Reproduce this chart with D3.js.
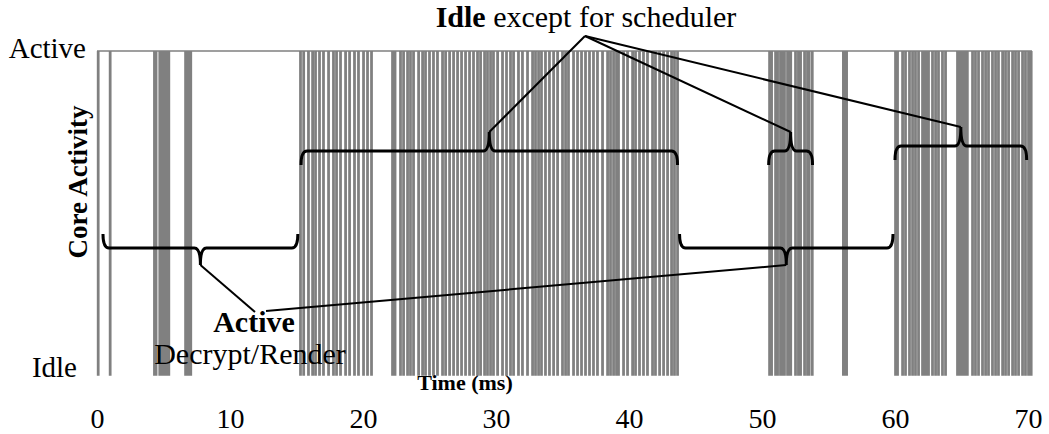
<!DOCTYPE html>
<html>
<head>
<meta charset="utf-8">
<script src="https://cdn.jsdelivr.net/npm/d3@7"></script>
<style>
  body { margin: 0; background: #fff; }
  text { font-family: "Liberation Serif", "Times New Roman", serif; fill: #000; }
</style>
</head>
<body>
<svg id="chart"></svg>
<script>
// x ticks (ms) and the two core states
const xTicks = [0, 10, 20, 30, 40, 50, 60, 70];
const stateLabels = ['Idle', 'Active'];

// times (ms) where the core drops to idle
const idleStarts = [
  0.05, 0.95,
  4.28, 4.4, 4.68, 4.8, 4.97, 5.1, 5.23, 5.36,
  6.62, 6.75, 6.88, 7.01,
  15.26, 15.5, 15.86, 16.17, 16.39, 16.69, 16.99, 17.37, 17.74, 17.97,
  18.27, 18.65, 18.95, 19.32, 19.62, 20.0, 20.3, 20.6,
  22.18, 22.37, 22.78, 23.01, 23.31, 23.53, 23.76, 24.14, 24.44, 24.66,
  24.96, 25.26, 25.56, 25.94, 26.17, 26.47, 26.77, 27.07, 27.37, 27.67,
  27.97, 28.27, 28.57, 28.8, 29.1, 29.32, 29.55, 29.77, 30.08, 30.45,
  30.75, 31.05, 31.28, 31.65, 31.95, 32.33, 32.71, 32.93, 33.16, 33.38,
  33.68, 33.98, 34.29, 34.59, 34.96, 35.19, 35.41, 35.79, 36.09, 36.39,
  36.69, 36.99, 37.29, 37.59, 37.97, 38.35, 38.57, 38.8, 39.02, 39.17,
  39.55, 39.85, 40.23, 40.45, 40.75, 41.05, 41.35, 41.73, 41.95, 42.26,
  42.56, 42.86, 43.16, 43.38, 43.61,
  50.53, 50.68, 50.98, 51.13, 51.35, 51.5, 51.65, 51.88, 51.99, 52.12,
  52.48, 52.7, 52.86, 53.16, 53.38, 53.5, 53.74,
  56.08, 56.2, 56.32,
  60.0, 60.15, 60.53, 60.75, 61.05, 61.28, 61.5, 61.73, 62.03, 62.18,
  62.33, 62.48, 62.78, 63.01, 63.23, 63.53, 63.76,
  64.66, 64.85, 65.04, 65.22, 65.4, 65.79, 66.01, 66.24, 66.54, 66.77,
  66.99, 67.29, 67.52, 67.74, 68.05, 68.27, 68.5, 68.8, 69.02, 69.25,
  69.55, 69.77, 70.0, 70.2
];
const idleLen = 0.08;
const endTime = 70.3;

// annotated spans (ms)
const idleSpans = [[15.34, 43.65], [50.5, 53.8], [60.0, 69.9]];
const activeSpans = [[0.45, 15.1], [43.8, 59.85]];

const width = 1049, height = 434;
const svg = d3.select('#chart').attr('width', width).attr('height', height);

const x = d3.scaleLinear().domain([0, 70]).range([97, 1028]);
const y = d3.scaleLinear().domain([0, 1]).range([375, 51]);

// build the step trace
let pts = [[0, 1]];
idleStarts.forEach(s => {
  pts.push([s, 1], [s, 0], [s + idleLen, 0], [s + idleLen, 1]);
});
pts.push([endTime, 1]);

const line = d3.line().x(d => x(d[0])).y(d => y(d[1]));

svg.append('path')
  .datum(pts)
  .attr('d', line)
  .attr('fill', 'none')
  .attr('stroke', '#808080')
  .attr('stroke-width', 1.7)
  .attr('stroke-linejoin', 'miter');

// x axis, labels only
const xAxis = d3.axisBottom(x).tickValues(xTicks).tickSize(0).tickFormat(d3.format('d'));
const xAxisG = svg.append('g').attr('transform', 'translate(0,428)').call(xAxis);
xAxisG.select('.domain').remove();
xAxisG.selectAll('text')
  .attr('y', 0).attr('dy', 0)
  .style('font-family', '"Liberation Serif", serif')
  .style('font-size', '28px')
  .attr('fill', '#000');

// y state labels
svg.append('text').attr('x', 86).attr('y', 58).attr('text-anchor', 'end')
  .style('font-size', '29px').text(stateLabels[1]);
svg.append('text').attr('x', 77).attr('y', 377).attr('text-anchor', 'end')
  .style('font-size', '29px').text(stateLabels[0]);

// axis titles
svg.append('text')
  .attr('transform', 'translate(87,182) rotate(-90)')
  .attr('text-anchor', 'middle')
  .style('font-size', '27px').style('font-weight', 'bold')
  .text('Core Activity');

svg.append('text')
  .attr('x', 465).attr('y', 390)
  .attr('text-anchor', 'middle')
  .style('font-size', '22px').style('font-weight', 'bold')
  .text('Time (ms)');

// curly brace path, dir=-1 tip up, dir=1 tip down
function brace(x1, x2, yy, dir, hook, tip) {
  const xm = (x1 + x2) / 2, r = 6;
  return `M${x1},${yy - dir * hook}` +
    ` Q${x1},${yy} ${x1 + r},${yy}` +
    ` L${xm - r},${yy}` +
    ` Q${xm},${yy} ${xm},${yy + dir * tip}` +
    ` Q${xm},${yy} ${xm + r},${yy}` +
    ` L${x2 - r},${yy}` +
    ` Q${x2},${yy} ${x2},${yy - dir * hook}`;
}

const idleY = [151, 151, 146];
const ann = svg.append('g');

idleSpans.forEach((s, i) => {
  ann.append('path')
    .attr('d', brace(x(s[0]), x(s[1]), idleY[i], -1, 14, 19))
    .attr('fill', 'none').attr('stroke', '#000').attr('stroke-width', 3);
});
activeSpans.forEach(s => {
  ann.append('path')
    .attr('d', brace(x(s[0]), x(s[1]), 248, 1, 14, 17))
    .attr('fill', 'none').attr('stroke', '#000').attr('stroke-width', 3);
});

// leader lines
idleSpans.forEach((s, i) => {
  ann.append('line')
    .attr('x1', 585).attr('y1', 36)
    .attr('x2', x((s[0] + s[1]) / 2)).attr('y2', idleY[i] - 19)
    .attr('stroke', '#000').attr('stroke-width', 2);
});
const activeFrom = [[255, 312], [266, 311]];
activeSpans.forEach((s, i) => {
  ann.append('line')
    .attr('x1', activeFrom[i][0]).attr('y1', activeFrom[i][1])
    .attr('x2', x((s[0] + s[1]) / 2)).attr('y2', 248 + 17)
    .attr('stroke', '#000').attr('stroke-width', 2);
});

// annotation texts
const t1 = svg.append('text').attr('x', 586).attr('y', 27)
  .attr('text-anchor', 'middle').style('font-size', '30px');
t1.append('tspan').style('font-weight', 'bold').text('Idle');
t1.append('tspan').text(' except for scheduler');

svg.append('text').attr('x', 254).attr('y', 332)
  .attr('text-anchor', 'middle').style('font-size', '30px').style('font-weight', 'bold')
  .text('Active');
svg.append('text').attr('x', 250).attr('y', 364)
  .attr('text-anchor', 'middle').style('font-size', '30px')
  .text('Decrypt/Render');
</script>
</body>
</html>
